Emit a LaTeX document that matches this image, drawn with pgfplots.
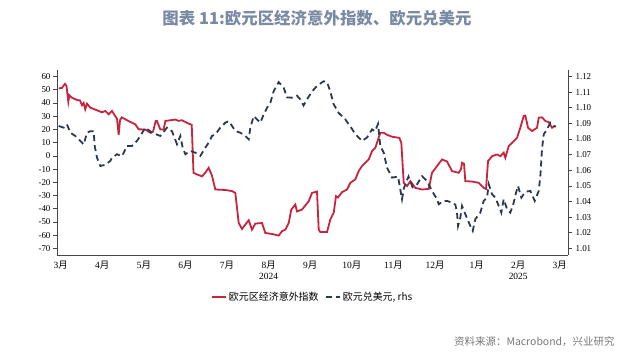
\documentclass[border=0pt]{standalone}
\usepackage{pgfplots}
\pgfplotsset{compat=1.18}
\usepackage{fontspec}
\setmainfont{Liberation Serif}
\newfontfamily\cjk{Noto Sans CJK SC}
\definecolor{redl}{RGB}{200,36,62}
\definecolor{navy}{RGB}{44,56,80}
\definecolor{titlec}{RGB}{122,138,165}
\definecolor{axc}{RGB}{70,70,70}
\definecolor{srcc}{RGB}{120,120,120}
\newcommand\yue{{\cjk 月}}
\begin{document}
\begin{tikzpicture}[x=1bp,y=1bp]
\useasboundingbox (0,0) rectangle (640,354);
\node[font=\cjk\bfseries\fontsize{16.5}{18}\selectfont, text=titlec] at (317,336) {图表 11:欧元区经济意外指数、欧元兑美元};
\node[font=\cjk\fontsize{10.5}{12}\selectfont, text=srcc, anchor=east] at (618,12) {资料来源：Macrobond，兴业研究};
\begin{axis}[
  at={(57bp,99bp)}, anchor=south west,
  width=511bp, height=185bp, scale only axis,
  xmin=0.411, xmax=12.697, ymin=-75, ymax=65,
  axis x line*=bottom, axis y line*=left,
  axis line style={axc, line width=0.8bp},
  tick style={axc, line width=0.7bp},
  tick align=outside,
  major tick length=4bp, minor tick length=4bp,
  ytick={-70,-60,...,60},
  yticklabel style={font=\fontsize{9}{10}\selectfont, xshift=1bp},
  /pgf/number format/assume math mode=true,
  xtick={0.5,1.5,...,12.5},
  xticklabels={3\yue,4\yue,5\yue,6\yue,7\yue,{8\yue\\2024},9\yue,10\yue,11\yue,12\yue,1\yue,{2\yue\\2025},3\yue},
  xticklabel style={font=\fontsize{9.5}{11}\selectfont, align=center, yshift=1bp},
  xtick style={draw=none},
  minor xtick={1,2,...,12},
  minor tick style={axc, line width=0.7bp},
  extra x ticks={10}, extra x tick labels={},
  extra x tick style={major tick length=8bp, tick style={axc, line width=0.7bp, draw=axc}},
  legend style={at={(0.5,-0.225)}, anchor=center, draw=none, fill=none,
    font=\cjk\fontsize{10}{11}\selectfont, legend columns=2,
    /tikz/every even column/.append style={column sep=4bp}},
  legend image post style={xscale=0.85},
  legend cell align=left,
  clip=false,
]
\addplot[redl, line width=1.8bp] table {
x y
0.452 51
0.531 51.5
0.603 54.5
0.639 53
0.683 41
0.707 45.9
0.772 44
0.892 42.3
0.964 42
1.012 38.3
1.053 40
1.091 35.3
1.132 39.5
1.212 36.5
1.414 34
1.493 33
1.572 34
1.654 31.5
1.733 34
1.854 28
1.894 16
1.926 27
1.967 29.2
2.135 26.3
2.294 23.9
2.375 20.1
2.534 20
2.654 17.5
2.719 18.3
2.784 26.4
2.815 26.4
2.895 20
2.976 20
3.015 26.4
3.135 27
3.255 27.5
3.337 26.5
3.416 27
3.537 25
3.650 23.5
3.693 -12.8
3.777 -14
3.897 -15.5
3.969 -13
4.058 -9
4.138 -15
4.217 -25.4
4.458 -25.8
4.619 -26.6
4.698 -28
4.780 -50.8
4.859 -55.3
4.938 -52
5.020 -48.7
5.099 -55.8
5.179 -51.2
5.340 -50.8
5.419 -58.3
5.580 -59.1
5.741 -60.3
5.821 -57
5.900 -55.8
5.982 -50.8
6.044 -40.6
6.141 -36.8
6.181 -42
6.302 -40.6
6.463 -34.3
6.542 -28
6.662 -27
6.703 -55.8
6.742 -57.6
6.903 -57.6
6.982 -48.2
7.064 -43
7.119 -30.5
7.167 -31.5
7.263 -27.5
7.384 -25.4
7.463 -20.4
7.583 -17.8
7.665 -11.5
7.744 -7.7
7.824 -5.2
7.905 -2.7
7.985 3.6
8.064 6.1
8.105 10
8.184 17.5
8.266 17.5
8.345 16
8.466 14.5
8.641 13.7
8.689 10
8.747 -20.4
8.826 -22.9
8.906 -19.1
9.026 -24.2
9.187 -25.4
9.348 -25
9.427 -12.8
9.548 -7.7
9.668 -2.7
9.788 -4.2
9.908 -11.5
10.069 -12.8
10.125 -10
10.149 -5.2
10.197 -6
10.228 -19.1
10.389 -19.4
10.550 -20.4
10.670 -24.2
10.726 -25
10.774 -4
10.870 -0.2
10.990 1.1
11.070 -0.2
11.151 2.4
11.190 -1.4
11.272 7.4
11.392 11.2
11.471 13.7
11.550 21.3
11.632 30.2
11.671 30.5
11.736 21.3
11.832 18.8
11.952 21.3
11.993 28.9
12.072 29.2
12.152 26.4
12.233 25.6
12.313 21.3
12.378 22.6
};
\addlegendentry{欧元区经济意外指数}
\addlegendimage{navy, line width=1.8bp, dash pattern=on 6bp off 4bp}
\addlegendentry{欧元兑美元, rhs}
\end{axis}
\begin{axis}[
  at={(57bp,99bp)}, anchor=south west,
  width=511bp, height=185bp, scale only axis,
  xmin=0.411, xmax=12.697, ymin=1.00577, ymax=1.12423,
  axis x line=none, axis y line*=right,
  axis line style={axc, line width=0.8bp},
  tick style={axc, line width=0.7bp},
  tick align=outside, major tick length=4bp,
  ytick={1.01,1.02,...,1.125},
  yticklabel style={font=\fontsize{9}{10}\selectfont, /pgf/number format/.cd, fixed, fixed zerofill, precision=2},
  /pgf/number format/assume math mode=true,
]
\addplot[navy, line width=1.8bp, dash pattern=on 6bp off 4bp] table {
x y
0.452 1.0884
0.572 1.0873
0.651 1.0894
0.731 1.0841
0.851 1.0820
1.012 1.0777
1.053 1.0765
1.132 1.0841
1.212 1.0850
1.293 1.0850
1.317 1.0756
1.373 1.0681
1.452 1.0628
1.572 1.0635
1.692 1.0660
1.733 1.0681
1.854 1.0703
1.974 1.0690
2.094 1.0756
2.214 1.0756
2.334 1.0788
2.414 1.0820
2.534 1.0873
2.695 1.0841
2.895 1.0820
3.056 1.0873
3.176 1.0850
3.296 1.0767
3.376 1.0820
3.433 1.0745
3.496 1.0703
3.616 1.0724
3.736 1.0713
3.856 1.0692
3.977 1.0745
4.058 1.0777
4.138 1.0820
4.217 1.0830
4.337 1.0873
4.458 1.0905
4.539 1.0915
4.619 1.0884
4.698 1.0852
4.818 1.0841
4.938 1.0820
5.020 1.0798
5.059 1.0873
5.140 1.0947
5.220 1.0926
5.299 1.0905
5.381 1.0958
5.460 1.1000
5.540 1.1032
5.621 1.1107
5.741 1.1165
5.862 1.1128
5.941 1.1067
6.061 1.1065
6.181 1.1078
6.261 1.1054
6.338 1.1015
6.422 1.1054
6.542 1.1105
6.662 1.1140
6.819 1.1170
6.903 1.1165
6.982 1.1105
7.059 1.1025
7.184 1.0967
7.343 1.0926
7.504 1.0865
7.583 1.0831
7.744 1.0788
7.865 1.0810
7.985 1.0862
8.057 1.0850
8.129 1.0897
8.184 1.0756
8.266 1.0713
8.345 1.0617
8.466 1.0553
8.610 1.0560
8.706 1.0415
8.754 1.0489
8.862 1.0560
8.959 1.0492
9.067 1.0510
9.187 1.0562
9.307 1.0532
9.427 1.0468
9.548 1.0415
9.589 1.0383
9.709 1.0404
9.788 1.0404
9.908 1.0393
9.988 1.0380
10.028 1.0329
10.053 1.0244
10.108 1.0297
10.149 1.0372
10.228 1.0319
10.348 1.0244
10.406 1.0212
10.469 1.0287
10.589 1.0329
10.670 1.0404
10.750 1.0425
10.791 1.0511
10.870 1.0447
10.950 1.0425
11.031 1.0372
11.094 1.0329
11.151 1.0415
11.231 1.0351
11.310 1.0329
11.392 1.0393
11.447 1.0457
11.495 1.0500
11.575 1.0425
11.671 1.0462
11.791 1.0468
11.897 1.0404
11.993 1.0468
12.032 1.0564
12.072 1.0735
12.113 1.0830
12.193 1.0862
12.272 1.0905
12.354 1.0884
12.409 1.0880
};
\end{axis}
\end{tikzpicture}
\end{document}
